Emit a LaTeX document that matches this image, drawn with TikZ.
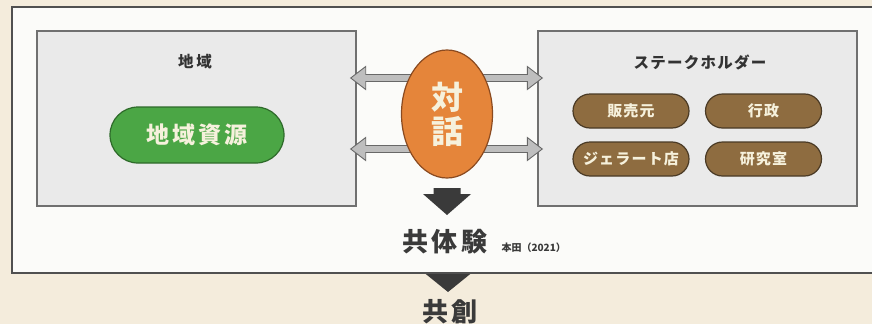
\documentclass[tikz,border=0pt]{standalone}
\usepackage{fontspec}
\usetikzlibrary{calc,shapes.geometric}
\newfontfamily\jp{Noto Sans CJK JP}
\newfontfamily\jpw{Noto Sans CJK JP}[LetterSpace=12]
\newfontfamily\jpm{Noto Sans CJK JP}[LetterSpace=8]
\definecolor{beige}{HTML}{F4ECDC}
\definecolor{paper}{HTML}{FBFBF9}
\definecolor{boxgray}{HTML}{EAEAEA}
\definecolor{boxline}{HTML}{707070}
\definecolor{outline}{HTML}{505050}
\definecolor{leaf}{HTML}{4BA645}
\definecolor{leafdark}{HTML}{2E6A2A}
\definecolor{orng}{HTML}{E5853A}
\definecolor{orngdark}{HTML}{8A4A20}
\definecolor{brwn}{HTML}{8E6C40}
\definecolor{brwndark}{HTML}{4A3A25}
\definecolor{cream}{HTML}{F6F1DC}
\definecolor{ink}{HTML}{333333}
\definecolor{arrgray}{HTML}{BEBEBE}
\definecolor{arrline}{HTML}{686868}
\definecolor{darkarr}{HTML}{3A3A3A}
\tikzset{
  gbox/.style={draw=boxline, fill=boxgray, line width=1.4pt, minimum width=319pt, minimum height=175pt, inner sep=0pt},
  title/.style={font=\jpm\bfseries\fontsize{15.5}{17}\selectfont, text=ink},
  greenpill/.style={draw=leafdark, fill=leaf, line width=1.2pt, rounded corners=28pt, minimum width=174pt, minimum height=56pt, text=cream, font=\jpw\bfseries\fontsize{23}{25}\selectfont},
  brownpill/.style={draw=brwndark, fill=brwn, line width=1.2pt, rounded corners=17pt, minimum width=116pt, minimum height=34pt, text=cream, font=\jpm\bfseries\fontsize{15}{17}\selectfont, inner sep=0pt},
  dialog/.style={ellipse, draw=orngdark, fill=orng, line width=1.2pt, minimum width=91pt, minimum height=128pt, inner sep=0pt, text=cream, align=center, font=\jp\bfseries\fontsize{32}{38}\selectfont},
  harrow/.style={draw=arrline, fill=arrgray, line width=0.9pt, line join=miter},
  darrow/.style={fill=darkarr, draw=none},
  bigtext/.style={font=\jpw\bfseries\fontsize{26}{28}\selectfont, text=darkarr},
}
\newcommand\harr[3]{%
  \filldraw[harrow] let \p1=#1, \p2=#2, \p3=($#2+(#3,0)$) in
    (\x1,\y1+3.5pt) -- (\x3,\y1+3.5pt) -- (\x3,\y1+11.5pt) -- (\x2,\y1)
    -- (\x3,\y1-11.5pt) -- (\x3,\y1-3.5pt) -- (\x1,\y1-3.5pt) -- cycle;}
\newcommand\darr[4]{%
  \fill[darrow] let \p1=#1, \p2=#2, \p3=($#2+(0,-#3)$) in
    (\x1-13.5pt,\y1) -- (\x1+13.5pt,\y1) -- (\x1+13.5pt,\y3) -- (\x1+#4,\y3)
    -- (\x2,\y2) -- (\x1-#4,\y3) -- (\x1-13.5pt,\y3) -- cycle;}
\begin{document}
\begin{tikzpicture}[x=1pt,y=-1pt]
\useasboundingbox (0,0) rectangle (872,324);
\fill[beige] (0,0) rectangle (872,324);
% arrow below the outer box
\coordinate (d2top) at (448,266);
\coordinate (d2tip) at (448,292);
\darr{(d2top)}{(d2tip)}{19}{23.5pt}
% outer box (its right side runs off the picture)
\node[draw=outline, fill=paper, line width=1.4pt, minimum width=866pt, minimum height=266pt, inner sep=0pt] (outer) at (445,140) {};
% region boxes
\node[gbox] (L) at (196.5,118.5) {};
\node[gbox] (R) at (697.5,118.5) {};
\node[title] (Lt) at (195,62) {地\kern3pt 域};
\node[title] (Rt) at (700,62) {ステークホルダー};
\node[greenpill] (res) at (197,135) {地域資源};
\node[brownpill] (p1) at (631,111) {販売元};
\node[brownpill] (p2) at (763.5,111) {行政};
\node[brownpill] (p3) at (631,159) {ジェラート店};
\node[brownpill] (p4) at (763.5,159) {研究室};
% horizontal arrows
\coordinate (c1) at (447,78);
\coordinate (c2) at (447,149);
\coordinate (tl1) at (L.east |- c1);
\coordinate (tl2) at (L.east |- c2);
\coordinate (tr1) at (R.west |- c1);
\coordinate (tr2) at (R.west |- c2);
\harr{(c1)}{($(tl1)+(-6,0)$)}{15}
\harr{(c2)}{($(tl2)+(-6,0)$)}{15}
\harr{(c1)}{($(tr1)+(5,0)$)}{-15}
\harr{(c2)}{($(tr2)+(5,0)$)}{-15}
% dialogue
\node[dialog] (dlg) at (447,114) {対\\[-4pt]話};
% down arrow 1
\coordinate (d1top) at (447,188);
\coordinate (d1tip) at (447,215);
\darr{(d1top)}{(d1tip)}{21}{24pt}
\node[bigtext] (kyo) at (445,242) {共体験};
\node[font=\jp\bfseries\fontsize{10}{12}\selectfont, text=darkarr, anchor=west] (ref) at (498,248) {本田（2021）};
\node[bigtext] (sou) at (450,312) {共創};
\end{tikzpicture}
\end{document}
